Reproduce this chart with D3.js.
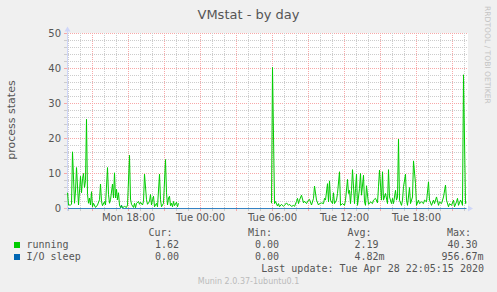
<!DOCTYPE html>
<html>
<head>
<meta charset="utf-8">
<script src="https://cdn.jsdelivr.net/npm/d3@7.9.0/dist/d3.min.js"></script>
<style>
  body { margin: 0; background: #f0f0f0; }
  svg { display: block; }
  text { font-family: "DejaVu Sans", sans-serif; fill: #555; }
  .mono { font-family: "DejaVu Sans Mono", monospace; font-size: 10px; fill: #555; }
  .grid line { shape-rendering: crispEdges; }
</style>
</head>
<body>
<svg id="chart" width="497" height="292"></svg>
<script>
const title = 'VMstat - by day';
const yLabel = 'process states';
const yTicks = [0, 10, 20, 30, 40, 50];
const startTime = '2020-04-27 12:55';
const endTime = '2020-04-28 22:15';

// running processes, Monday afternoon (then a gap with no data)
const monRunning = [
  ['12:55', 4.5], ['13:00', 1], ['13:10', 1], ['13:15', 1.2], ['13:20', 16.2],
  ['13:30', 1.5], ['13:35', 5], ['13:40', 11.7], ['13:50', 1], ['13:55', 5],
  ['14:00', 9.2], ['14:05', 4.5], ['14:10', 8.5], ['14:15', 10], ['14:20', 6],
  ['14:25', 8], ['14:30', 25.5], ['14:35', 4], ['14:40', 1.5], ['14:45', 3],
  ['14:50', 1], ['14:55', 4.8], ['15:00', 0.5], ['15:05', 1.5], ['15:15', 0.3],
  ['15:25', 1], ['15:35', 2.5], ['15:40', 7], ['15:45', 2], ['15:50', 0.8],
  ['16:00', 2], ['16:05', 1], ['16:15', 11.7], ['16:20', 4], ['16:25', 1.5],
  ['16:30', 2.5], ['16:40', 7], ['16:45', 3], ['16:50', 10.2], ['16:55', 3],
  ['17:00', 5.5], ['17:05', 2.5], ['17:10', 4.5], ['17:15', 1], ['17:20', 0.3],
  ['17:25', 0.8], ['17:30', 0.2], ['17:40', 0.6], ['17:50', 0.3], ['17:55', 1],
  ['18:05', 15.2], ['18:10', 2.7], ['18:15', 1.2], ['18:25', 0.3], ['18:30', 1.5],
  ['18:35', 0.2], ['18:40', 1.5], ['18:50', 2], ['18:55', 1.2], ['19:00', 1.8],
  ['19:10', 1], ['19:15', 2], ['19:20', 9.8], ['19:30', 2.5], ['19:35', 1.2],
  ['19:45', 2], ['19:50', 4], ['19:55', 1], ['20:00', 2.5], ['20:05', 3.5],
  ['20:10', 0.5], ['20:20', 1.5], ['20:25', 0.5], ['20:35', 9.8], ['20:40', 2.5],
  ['20:45', 0.5], ['20:55', 1.5], ['21:05', 14], ['21:10', 4.5], ['21:15', 1],
  ['21:20', 3], ['21:25', 3.5], ['21:30', 0.8], ['21:35', 1.5], ['21:40', 0.5],
  ['21:45', 2], ['21:50', 0.8], ['22:00', 1.8], ['22:05', 0.5], ['22:10', 1.5]
];

// running processes, Tuesday from 05:55
const tueRunning = [
  ['05:55', 1.5], ['06:00', 40.3], ['06:10', 1.4], ['06:15', 2], ['06:25', 0.7],
  ['06:30', 1.4], ['06:35', 0.5], ['06:45', 1.2], ['06:55', 0.6], ['07:00', 0.9],
  ['07:10', 1.6], ['07:20', 0.9], ['07:25', 1.2], ['07:35', 0.6], ['07:45', 0.9],
  ['07:50', 0.6], ['08:00', 2], ['08:05', 2.9], ['08:10', 1.4], ['08:15', 2.4],
  ['08:25', 3.8], ['08:35', 1.6], ['08:40', 2.1], ['08:50', 1.4], ['09:00', 2.4],
  ['09:05', 2.6], ['09:15', 1], ['09:25', 2.9], ['09:30', 6.4], ['09:40', 2.4],
  ['09:50', 1], ['09:55', 1.4], ['10:05', 1.6], ['10:15', 1.4], ['10:20', 2.9],
  ['10:25', 2.4], ['10:35', 7.1], ['10:40', 1.9], ['10:45', 7.9], ['10:50', 2.4],
  ['11:00', 1.4], ['11:05', 4.5], ['11:10', 1.4], ['11:20', 2.4], ['11:25', 4.3],
  ['11:35', 10.5], ['11:40', 0.9], ['11:50', 1.4], ['12:00', 0.9], ['12:05', 2.4],
  ['12:15', 8.3], ['12:20', 4.3], ['12:25', 5.2], ['12:30', 1.4], ['12:35', 5.2],
  ['12:40', 11.1], ['12:50', 1.4], ['12:55', 5.7], ['13:00', 9.8], ['13:05', 0.9],
  ['13:15', 5.7], ['13:20', 10], ['13:25', 3.8], ['13:35', 9.5], ['13:40', 1.9],
  ['13:45', 0.9], ['13:50', 6.5], ['14:00', 1.2], ['14:05', 1.4], ['14:10', 1.9],
  ['14:20', 1.4], ['14:25', 2.4], ['14:35', 2.9], ['14:45', 1.6], ['14:50', 6.2],
  ['14:55', 11], ['15:05', 2.4], ['15:10', 10.5], ['15:15', 2.4], ['15:25', 4.3],
  ['15:35', 1.4], ['15:40', 11.1], ['15:45', 3.3], ['15:55', 1.4], ['16:00', 2.9],
  ['16:05', 1.4], ['16:15', 5.2], ['16:20', 2.4], ['16:25', 3.3], ['16:30', 19.8],
  ['16:35', 2.4], ['16:45', 0.9], ['16:50', 2.4], ['16:55', 6.2], ['17:05', 9.8],
  ['17:10', 2.4], ['17:15', 0.9], ['17:25', 6], ['17:30', 1.4], ['17:40', 3.3],
  ['17:45', 13.6], ['17:55', 7.1], ['18:00', 0.9], ['18:10', 2.4], ['18:15', 1.4],
  ['18:25', 1.9], ['18:35', 1.4], ['18:40', 2.4], ['18:50', 1.9], ['19:00', 7.6],
  ['19:05', 2.4], ['19:15', 0.9], ['19:25', 2.4], ['19:30', 1.4], ['19:40', 3.3],
  ['19:50', 0.9], ['19:55', 1.9], ['20:05', 1.4], ['20:15', 3.3], ['20:25', 6.7],
  ['20:30', 2.4], ['20:40', 0.5], ['20:45', 1.4], ['20:55', 0.9], ['21:05', 2.4],
  ['21:10', 0.5], ['21:20', 1.9], ['21:25', 2.9], ['21:30', 0.9], ['21:40', 2.4],
  ['21:45', 1.9], ['21:50', 0.9], ['21:55', 38.2], ['22:05', 1.4], ['22:10', 1.62]
];

// I/O sleep: flat zero with one blip
const ioSleep = [
  ['2020-04-27 12:55', 0], ['2020-04-27 17:20', 0], ['2020-04-27 17:25', 0.96],
  ['2020-04-27 17:30', 0], ['2020-04-28 22:10', 0]
];

const legendNames = ['running', 'I/O sleep'];
const legendColors = ['#00cc00', '#0066b3'];
const statHeaders = ['Cur:', 'Min:', 'Avg:', 'Max:'];
const curValues = ['1.62', '0.00'];
const minValues = ['0.00', '0.00'];
const avgValues = ['2.19', '4.82m'];
const maxValues = ['40.30', '956.67m'];
const lastUpdate = 'Last update: Tue Apr 28 22:05:15 2020';
const footer = 'Munin 2.0.37-1ubuntu0.1';
const sideText = 'RRDTOOL / TOBI OETIKER';

const parse = d3.timeParse('%Y-%m-%d %H:%M');
const svg = d3.select('#chart');

const x = d3.scaleTime()
  .domain([parse(startTime), parse(endTime)])
  .range([67.5, 467.5]);
const y = d3.scaleLinear().domain([0, 50]).range([208.5, 33.5]);

const mon = monRunning.map(([t, v]) => ({ t: parse('2020-04-27 ' + t), v }));
const tue = tueRunning.map(([t, v]) => ({ t: parse('2020-04-28 ' + t), v }));
const io = ioSleep.map(([t, v]) => ({ t: parse(t), v }));

// canvas
svg.append('rect')
  .attr('x', 67).attr('y', 33)
  .attr('width', 401).attr('height', 176)
  .attr('fill', '#fff');

const minorCol = '#cccccc';
const majorCol = '#f7a8a8';
const grid = svg.append('g').attr('class', 'grid');

// horizontal grid
const yMinor = d3.range(2, 50, 2).filter(v => v % 10 !== 0);
grid.append('g').selectAll('line').data(yMinor).join('line')
  .attr('x1', 67.5).attr('x2', 467.5)
  .attr('y1', d => y(d)).attr('y2', d => y(d))
  .attr('stroke', minorCol).attr('stroke-dasharray', '1,1');
grid.append('g').selectAll('line').data(yTicks.filter(v => v > 0)).join('line')
  .attr('x1', 67.5).attr('x2', 467.5)
  .attr('y1', d => y(d)).attr('y2', d => y(d))
  .attr('stroke', majorCol).attr('stroke-dasharray', '1,1');
// left ticks
grid.append('g').selectAll('line').data(d3.range(0, 51, 2)).join('line')
  .attr('x1', 64).attr('x2', 67)
  .attr('y1', d => y(d)).attr('y2', d => y(d))
  .attr('stroke', d => d % 10 === 0 ? majorCol : minorCol);

// vertical grid
const hours = d3.timeHour.range(x.domain()[0], x.domain()[1]);
const xMinor = hours.filter(d => d.getHours() % 3 !== 0);
const xMajor = hours.filter(d => d.getHours() % 3 === 0);
grid.append('g').selectAll('line').data(xMinor).join('line')
  .attr('x1', d => x(d)).attr('x2', d => x(d))
  .attr('y1', 33).attr('y2', 208)
  .attr('stroke', minorCol).attr('stroke-dasharray', '1,1');
grid.append('g').selectAll('line').data(xMajor).join('line')
  .attr('x1', d => x(d)).attr('x2', d => x(d))
  .attr('y1', 33).attr('y2', 208)
  .attr('stroke', majorCol).attr('stroke-dasharray', '1,1');
// bottom ticks
grid.append('g').selectAll('line').data(hours).join('line')
  .attr('x1', d => x(d)).attr('x2', d => x(d))
  .attr('y1', 209).attr('y2', 211)
  .attr('stroke', d => d.getHours() % 3 === 0 ? majorCol : minorCol);

// series
const line = d3.line().x(d => x(d.t)).y(d => y(d.v));
svg.append('path').datum(io)
  .attr('d', line).attr('fill', 'none')
  .attr('stroke', '#0066b3').attr('stroke-width', 1);

// axes
const axisCol = '#cfd6f8';
svg.append('line')
  .attr('x1', 64).attr('x2', 468).attr('y1', 208.5).attr('y2', 208.5)
  .attr('stroke', axisCol).attr('stroke-opacity', 0.25);
svg.append('line')
  .attr('x1', 67.5).attr('x2', 67.5).attr('y1', 211).attr('y2', 31)
  .attr('stroke', axisCol);
svg.append('path')
  .attr('d', 'M64.5,31.5L67.5,26.5L70.5,31.5Z').attr('fill', axisCol);
svg.append('path')
  .attr('d', 'M468,205.5L473,208.5L468,211.5Z').attr('fill', axisCol);

[mon, tue].forEach(seg => {
  svg.append('path').datum(seg)
    .attr('d', line).attr('fill', 'none')
    .attr('stroke', '#00cc00').attr('stroke-width', 1);
});

// axis labels
svg.append('g').selectAll('text').data(yTicks).join('text')
  .attr('x', 61).attr('y', d => y(d) + 3.7)
  .attr('text-anchor', 'end').attr('font-size', 10)
  .text(d => d);

svg.append('g').selectAll('text').data(d3.timeHour.every(6).range(x.domain()[0], x.domain()[1])).join('text')
  .attr('x', d => x(d)).attr('y', 220.5)
  .attr('text-anchor', 'middle').attr('font-size', 10)
  .text(d3.timeFormat('%a %H:%M'));

svg.append('text')
  .attr('x', 248.5).attr('y', 18.5)
  .attr('text-anchor', 'middle').attr('font-size', 13)
  .text(title);

svg.append('text')
  .attr('transform', 'translate(15,120) rotate(-90)')
  .attr('text-anchor', 'middle').attr('font-size', 11)
  .text(yLabel);

svg.append('text')
  .attr('transform', 'translate(485,6) rotate(90)')
  .attr('font-size', 7.6).style('fill', '#c4c4c4')
  .text(sideText);

// legend
const headX = [148.5, 248, 347.5, 447];
const valEnd = [179, 279, 378.5, 477.5];
svg.append('g').selectAll('text').data(statHeaders).join('text')
  .attr('class', 'mono')
  .attr('x', (d, i) => headX[i]).attr('y', 236)
  .text(d => d);

const cols = [curValues, minValues, avgValues, maxValues];
legendNames.forEach((name, r) => {
  const yy = 248 + r * 12;
  svg.append('rect')
    .attr('x', 14).attr('y', yy - 6).attr('width', 6).attr('height', 6)
    .attr('fill', legendColors[r]);
  svg.append('text').attr('class', 'mono')
    .attr('x', 26.5).attr('y', yy).text(name);
  cols.forEach((col, c) => {
    const [, num, unit] = col[r].match(/^([\d.]+)(\D*)$/);
    svg.append('text').attr('class', 'mono')
      .attr('x', valEnd[c]).attr('y', yy)
      .attr('text-anchor', 'end').text(num);
    if (unit) {
      svg.append('text').attr('class', 'mono')
        .attr('x', valEnd[c]).attr('y', yy).text(unit);
    }
  });
});

svg.append('text').attr('class', 'mono')
  .attr('x', 484).attr('y', 272)
  .attr('text-anchor', 'end').text(lastUpdate);

svg.append('text')
  .attr('x', 248.5).attr('y', 283.5)
  .attr('text-anchor', 'middle').attr('font-size', 8)
  .style('fill', '#bbb')
  .text(footer);
</script>
</body>
</html>
